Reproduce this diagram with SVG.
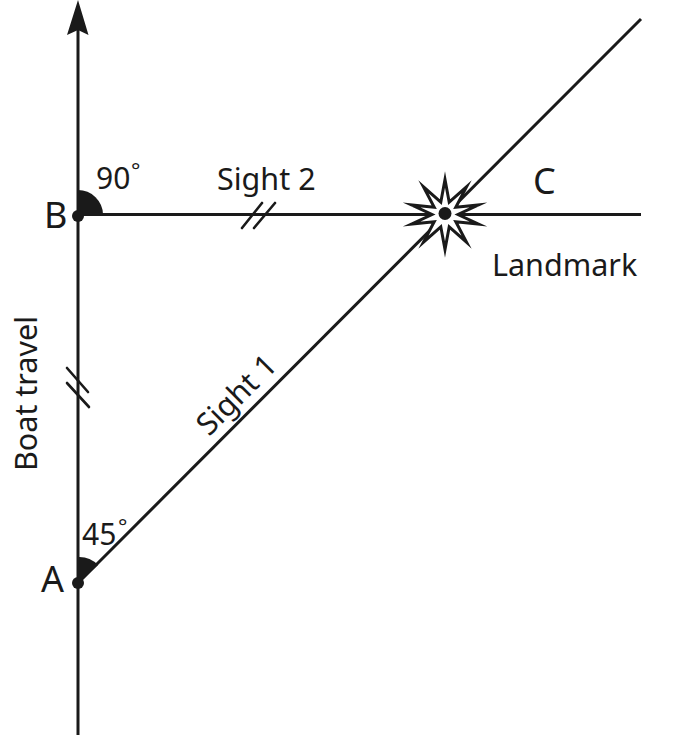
<svg xmlns="http://www.w3.org/2000/svg" width="675" height="753" viewBox="0 0 675 753">
<style>
.l{stroke:#1a1a1a;stroke-width:3;fill:none}
.t{stroke:#1a1a1a;stroke-width:2.6;fill:none;stroke-linecap:round}
text{font-family:"Noto Sans","Open Sans",sans-serif;fill:#1a1a1a}
.s{font-size:30.500px}
.n{font-size:30px}
.d{font-size:22px}
.b{font-size:36px}
.f{fill:#1a1a1a}
</style>
<rect width="675" height="753" fill="#fff"/>
<g id="connectors">
<path class="l" d="M78 735V20"/>
<path class="f" d="M78 0L88.500 35L78 30L67 35Z"/>
<path class="l" d="M78 214.500H641"/>
<path class="l" d="M78 583L641 19"/>
<path class="t" d="M242 228L262 203M254 228L275 203"/>
<path class="t" d="M67 368L88 392M67 383L89 407"/>
</g>
<g id="node-B">
<path class="f" d="M78 214.500V190A25 25 0 0 1 103 214.500Z"/>
<circle class="f" cx="78" cy="216" r="6"/>
<text class="b" x="44" y="228">B</text>
<text class="n" x="96" y="189">90</text>
<text class="d" x="131" y="178">°</text>
</g>
<g id="node-A">
<path class="f" d="M78 583V557A26 26 0 0 1 98 565Z"/>
<circle class="f" cx="78" cy="583" r="6"/>
<text class="b" x="41" y="592">A</text>
<text class="n" x="82" y="545">45</text>
<text class="d" x="118" y="534">°</text>
</g>
<g id="node-landmark">
<polygon points="445,179.500 449.200,202.200 466.500,186.900 455.800,207.200 478.600,204.900 458,214.500 478.600,224.100 455.800,221.800 466.500,242.100 449.200,226.800 445,249.500 440.800,226.800 423.500,242.100 434.200,221.800 411.400,224.100 432,214.500 411.400,204.900 434.200,207.200 423.500,186.900 440.800,202.200" fill="#fff" stroke="#1a1a1a" stroke-width="3" stroke-miterlimit="20"/>
<circle class="f" cx="445" cy="213.500" r="6.500"/>
<text class="b" x="533" y="194">C</text>
<text class="s" x="492" y="276">Landmark</text>
</g>
<g id="labels">
<text class="s" x="217" y="190">Sight 2</text>
<text class="s" transform="translate(209 437) rotate(-45)">Sight 1</text>
<text class="s" transform="translate(37 471) rotate(-90)">Boat travel</text>
</g>
</svg>
